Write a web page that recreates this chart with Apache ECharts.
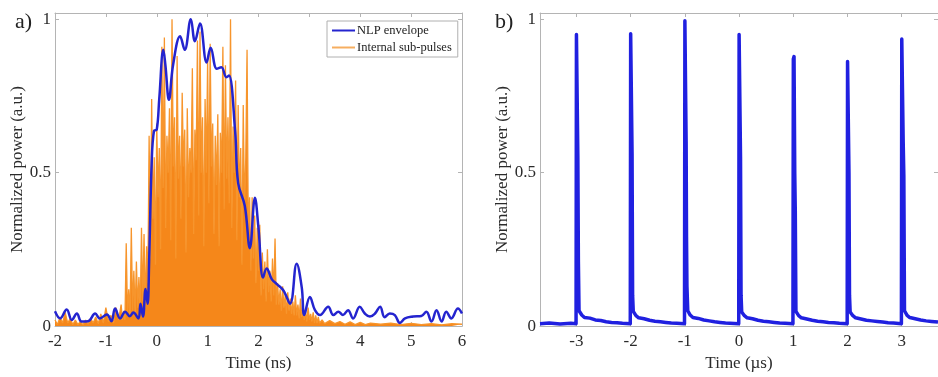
<!DOCTYPE html>
<html>
<head>
<meta charset="utf-8">
<script src="https://cdn.jsdelivr.net/npm/echarts@6/dist/echarts.min.js"></script>
<style>
  html, body { margin: 0; padding: 0; background: #ffffff; }
  #chart { width: 938px; height: 377px; }
</style>
</head>
<body>
<div id="chart"></div>
<script>
// Panel a) tick labels
const timeTicksNs = [-2, -1, 0, 1, 2, 3, 4, 5, 6];
const powerTicks = [0, 0.5, 1];
// Panel b) tick labels
const timeTicksUs = [-3, -2, -1, 0, 1, 2, 3];

// NLP envelope, [time (ns), normalized power]
const nlpEnvelope = [
  [-2.00, 0.048], [-1.90, 0.025], [-1.77, 0.054], [-1.67, 0.020], [-1.57, 0.041],
  [-1.48, 0.015], [-1.35, 0.016], [-1.21, 0.041], [-1.12, 0.025], [-0.98, 0.038],
  [-0.89, 0.016], [-0.82, 0.057], [-0.72, 0.025], [-0.62, 0.047], [-0.53, 0.032],
  [-0.46, 0.044], [-0.36, 0.025], [-0.32, 0.073], [-0.27, 0.031], [-0.22, 0.121],
  [-0.18, 0.073], [-0.15, 0.210], [-0.10, 0.530], [-0.055, 0.636], [0.00, 0.640],
  [0.05, 0.742], [0.13, 0.900], [0.17, 0.850], [0.24, 0.737], [0.32, 0.850],
  [0.46, 0.944], [0.55, 0.900], [0.67, 1.000], [0.75, 0.928], [0.85, 0.986],
  [0.98, 0.859], [1.06, 0.907], [1.18, 0.838], [1.27, 0.843], [1.37, 0.811],
  [1.42, 0.816], [1.54, 0.636], [1.60, 0.466], [1.73, 0.392], [1.83, 0.254],
  [1.93, 0.418], [2.00, 0.318], [2.09, 0.158], [2.16, 0.188], [2.26, 0.153],
  [2.36, 0.137], [2.49, 0.116], [2.62, 0.073], [2.75, 0.203], [2.85, 0.126],
  [2.90, 0.036], [3.01, 0.095], [3.11, 0.052], [3.21, 0.036], [3.37, 0.063],
  [3.47, 0.036], [3.57, 0.047], [3.66, 0.036], [3.76, 0.052], [3.86, 0.025],
  [3.99, 0.063], [4.09, 0.041], [4.19, 0.031], [4.29, 0.041], [4.39, 0.063],
  [4.48, 0.029], [4.58, 0.041], [4.68, 0.036], [4.78, 0.010], [4.88, 0.025],
  [5.04, 0.031], [5.20, 0.033], [5.30, 0.047], [5.40, 0.015], [5.50, 0.052],
  [5.60, 0.015], [5.69, 0.047], [5.79, 0.025], [5.92, 0.057], [6.00, 0.041]
];

// Internal sub-pulses, [time (ns), normalized power]
const subPulses = [
  [-2.00, 0.020], [-1.95, 0.005], [-1.90, 0.030], [-1.85, 0.010], [-1.80, 0.045],
  [-1.75, 0.010], [-1.70, 0.025], [-1.65, 0.005], [-1.60, 0.020], [-1.55, 0.005],
  [-1.50, 0.015], [-1.45, 0.004], [-1.40, 0.020], [-1.35, 0.006], [-1.30, 0.025],
  [-1.25, 0.010], [-1.20, 0.030], [-1.15, 0.008], [-1.10, 0.040], [-1.05, 0.010],
  [-1.00, 0.060], [-0.95, 0.015], [-0.90, 0.035], [-0.85, 0.010], [-0.80, 0.060],
  [-0.75, 0.020], [-0.70, 0.070], [-0.675, 0.020],
  [-0.650, 0.05], [-0.625, 0.02], [-0.600, 0.27], [-0.575, 0.04], [-0.550, 0.12],
  [-0.525, 0.03], [-0.500, 0.32], [-0.475, 0.05], [-0.450, 0.18], [-0.425, 0.04],
  [-0.400, 0.21], [-0.375, 0.06], [-0.350, 0.16], [-0.325, 0.05], [-0.300, 0.32],
  [-0.275, 0.08], [-0.250, 0.30], [-0.225, 0.06], [-0.200, 0.26], [-0.175, 0.14],
  [-0.150, 0.62], [-0.125, 0.22], [-0.100, 0.74], [-0.075, 0.35], [-0.050, 0.55],
  [-0.025, 0.20], [0.000, 0.66], [0.025, 0.42], [0.050, 0.58], [0.075, 0.25],
  [0.100, 0.91], [0.125, 0.45], [0.150, 0.94], [0.175, 0.32], [0.200, 0.62],
  [0.225, 0.50], [0.250, 0.71], [0.275, 0.28], [0.300, 1.00], [0.325, 0.52],
  [0.350, 0.68], [0.375, 0.22], [0.400, 0.88], [0.425, 0.48], [0.450, 0.62],
  [0.475, 0.35], [0.500, 0.76], [0.525, 0.52], [0.550, 0.64], [0.575, 0.24],
  [0.600, 0.71], [0.625, 0.42], [0.650, 0.58], [0.675, 0.50], [0.700, 0.84],
  [0.725, 0.30], [0.750, 0.64], [0.775, 0.54], [0.800, 0.93], [0.825, 0.36],
  [0.850, 0.96], [0.875, 0.50], [0.900, 0.68], [0.925, 0.26], [0.950, 0.74],
  [0.975, 0.50], [1.000, 0.87], [1.025, 0.40], [1.050, 0.92], [1.075, 0.52],
  [1.100, 0.66], [1.125, 0.30], [1.150, 0.62], [1.175, 0.46], [1.200, 0.69],
  [1.225, 0.26], [1.250, 0.63], [1.275, 0.50], [1.300, 0.91], [1.325, 0.38],
  [1.350, 0.85], [1.375, 0.48], [1.400, 0.68], [1.425, 0.40], [1.450, 1.00],
  [1.475, 0.32], [1.500, 0.65], [1.525, 0.50], [1.550, 0.80], [1.575, 0.28],
  [1.600, 0.72], [1.625, 0.42], [1.650, 0.58], [1.675, 0.20], [1.700, 0.72],
  [1.725, 0.38], [1.750, 0.55], [1.775, 0.90], [1.800, 0.30], [1.825, 0.42],
  [1.850, 0.18], [1.875, 0.42], [1.900, 0.22], [1.925, 0.36], [1.950, 0.14],
  [1.975, 0.32], [2.000, 0.18], [2.025, 0.33], [2.050, 0.10], [2.075, 0.24],
  [2.100, 0.12], [2.125, 0.21], [2.150, 0.08], [2.175, 0.25], [2.200, 0.11],
  [2.225, 0.18], [2.250, 0.08], [2.275, 0.22], [2.300, 0.10], [2.325, 0.285],
  [2.350, 0.07], [2.375, 0.14], [2.400, 0.07], [2.425, 0.12], [2.450, 0.05],
  [2.475, 0.13], [2.500, 0.06], [2.525, 0.10], [2.550, 0.04], [2.575, 0.11],
  [2.600, 0.05], [2.625, 0.09], [2.650, 0.04], [2.675, 0.08], [2.700, 0.035],
  [2.725, 0.10], [2.750, 0.035], [2.775, 0.07], [2.800, 0.025], [2.825, 0.09],
  [2.850, 0.03], [2.875, 0.06], [2.900, 0.02], [2.925, 0.05], [2.950, 0.015],
  [2.975, 0.06], [3.000, 0.02], [3.025, 0.04], [3.050, 0.015], [3.075, 0.045],
  [3.100, 0.010], [3.125, 0.035], [3.150, 0.010], [3.175, 0.030], [3.200, 0.010],
  [3.25, 0.020], [3.30, 0.008], [3.40, 0.018], [3.50, 0.008], [3.60, 0.015],
  [3.70, 0.006], [3.80, 0.014], [3.90, 0.005], [4.00, 0.012], [4.10, 0.005],
  [4.20, 0.010], [4.40, 0.006], [4.60, 0.010], [4.80, 0.005], [5.00, 0.009],
  [5.20, 0.005], [5.40, 0.008], [5.60, 0.004], [5.80, 0.008], [6.00, 0.006]
];

// Pulse train, [time (µs), normalized power]
const pulseTrain = [
  [-3.67, 0.008], [-3.50, 0.010], [-3.30, 0.007], [-3.10, 0.009], [-3.005, 0.008],
  // pulse at -3 µs
  [-2.998, 0.950], [-2.985, 0.954], [-2.972, 0.55], [-2.962, 0.21], [-2.950, 0.050],
  [-2.90, 0.036], [-2.85, 0.028], [-2.75, 0.026], [-2.65, 0.020], [-2.55, 0.018],
  [-2.45, 0.014], [-2.35, 0.012], [-2.25, 0.011], [-2.15, 0.009], [-2.005, 0.008],
  // pulse at -2 µs
  [-1.998, 0.952], [-1.985, 0.955], [-1.972, 0.56], [-1.962, 0.10], [-1.950, 0.048],
  [-1.90, 0.034], [-1.85, 0.027], [-1.75, 0.024], [-1.65, 0.019], [-1.55, 0.016],
  [-1.45, 0.014], [-1.35, 0.012], [-1.25, 0.010], [-1.15, 0.009], [-1.005, 0.008],
  // pulse at -1 µs
  [-0.998, 0.995], [-0.985, 1.000], [-0.975, 0.60], [-0.968, 0.29], [-0.960, 0.13],
  [-0.945, 0.050], [-0.90, 0.036], [-0.85, 0.028], [-0.75, 0.025], [-0.65, 0.020],
  [-0.55, 0.017], [-0.45, 0.014], [-0.35, 0.012], [-0.25, 0.010], [-0.005, 0.008],
  // pulse at 0 µs
  [0.002, 0.950], [0.015, 0.955], [0.028, 0.55], [0.038, 0.10], [0.050, 0.046],
  [0.10, 0.034], [0.15, 0.027], [0.25, 0.024], [0.35, 0.019], [0.45, 0.016],
  [0.55, 0.014], [0.65, 0.012], [0.75, 0.010], [0.85, 0.009], [0.995, 0.008],
  // pulse at 1 µs
  [1.002, 0.870], [1.015, 0.878], [1.028, 0.50], [1.038, 0.376], [1.050, 0.048],
  [1.10, 0.034], [1.15, 0.027], [1.25, 0.023], [1.35, 0.019], [1.45, 0.016],
  [1.55, 0.014], [1.65, 0.012], [1.75, 0.011], [1.85, 0.009], [1.995, 0.008],
  // pulse at 2 µs
  [2.002, 0.862], [2.015, 0.868], [2.028, 0.50], [2.038, 0.10], [2.050, 0.046],
  [2.10, 0.034], [2.15, 0.027], [2.25, 0.023], [2.35, 0.019], [2.45, 0.017],
  [2.55, 0.015], [2.65, 0.013], [2.75, 0.011], [2.85, 0.010], [2.995, 0.008],
  // pulse at 3 µs
  [3.002, 0.935], [3.015, 0.940], [3.028, 0.60], [3.040, 0.490], [3.052, 0.050],
  [3.10, 0.035], [3.15, 0.028], [3.25, 0.024], [3.35, 0.020], [3.45, 0.017],
  [3.55, 0.015], [3.67, 0.013]
];

const serif = '"Liberation Serif", "DejaVu Serif", serif';
const frameColor = '#b4b4b4';
const labelColor = '#2b2b2b';
const blue = '#2424cf';

function frameAxis(gridIndex, position, min, max, ticks) {
  return {
    type: 'value', gridIndex, position, min, max,
    axisLine: { show: true, onZero: false, lineStyle: { color: frameColor, width: 1 } },
    axisTick: { show: true, inside: true, length: 4, customValues: ticks, lineStyle: { color: frameColor } },
    axisLabel: { show: false },
    splitLine: { show: false }
  };
}

function labelledX(gridIndex, min, max, ticks, name) {
  const a = frameAxis(gridIndex, 'bottom', min, max, ticks);
  a.axisLabel = {
    show: true, customValues: ticks, margin: 7,
    fontFamily: serif, fontSize: 17, color: labelColor
  };
  a.name = name;
  a.nameLocation = 'middle';
  a.nameGap = 26;
  a.nameTextStyle = { fontFamily: serif, fontSize: 17, color: labelColor };
  return a;
}

function labelledY(gridIndex, ticks, name) {
  const a = frameAxis(gridIndex, 'left', 0, 1.02, ticks);
  a.axisLabel = {
    show: true, customValues: ticks, margin: 4,
    fontFamily: serif, fontSize: 17, color: labelColor
  };
  a.name = name;
  a.nameLocation = 'middle';
  a.nameGap = 26;
  a.nameTextStyle = { fontFamily: serif, fontSize: 17, color: labelColor };
  return a;
}

const chart = echarts.init(document.getElementById('chart'), null, { renderer: 'canvas' });

chart.setOption({
  backgroundColor: '#ffffff',
  animation: false,
  title: [
    { text: 'a)', left: 10, top: 6, textStyle: { fontFamily: serif, fontSize: 22, fontWeight: 'normal', color: '#222' } },
    { text: 'b)', left: 490, top: 6, textStyle: { fontFamily: serif, fontSize: 22, fontWeight: 'normal', color: '#222' } }
  ],
  grid: [
    { left: 55, top: 13, width: 407, height: 320 },
    { left: 540, top: 13, width: 407, height: 320 }
  ],
  legend: {
    data: ['NLP envelope', 'Internal sub-pulses'],
    orient: 'vertical',
    left: 327, top: 21,
    icon: 'rect',
    itemWidth: 23, itemHeight: 2, itemGap: 4,
    padding: [3, 6, 3, 5],
    backgroundColor: '#ffffff',
    borderColor: '#b0b0b0', borderWidth: 1, borderRadius: 0,
    textStyle: { fontFamily: serif, fontSize: 12.5, color: '#222', padding: [0, 0, 0, -3] }
  },
  xAxis: [
    labelledX(0, -2, 6, timeTicksNs, 'Time (ns)'),
    frameAxis(0, 'top', -2, 6, timeTicksNs),
    labelledX(1, -3.67, 3.67, timeTicksUs, 'Time (µs)'),
    frameAxis(1, 'top', -3.67, 3.67, timeTicksUs)
  ],
  yAxis: [
    labelledY(0, powerTicks, 'Normalized power (a.u.)'),
    frameAxis(0, 'right', 0, 1.02, powerTicks),
    labelledY(1, powerTicks, 'Normalized power (a.u.)'),
    frameAxis(1, 'right', 0, 1.02, powerTicks)
  ],
  series: [
    {
      name: 'Internal sub-pulses', type: 'line',
      xAxisIndex: 0, yAxisIndex: 0,
      data: subPulses, showSymbol: false, symbol: 'none',
      itemStyle: { color: '#f6ae60' },
      lineStyle: { color: '#f7952c', width: 1.3 },
      areaStyle: { color: '#f5871a', opacity: 1 },
      z: 2
    },
    {
      name: 'NLP envelope', type: 'line',
      xAxisIndex: 0, yAxisIndex: 0,
      data: nlpEnvelope, showSymbol: false, symbol: 'none', smooth: 0.4,
      itemStyle: { color: blue },
      lineStyle: { color: blue, width: 2.5 },
      z: 3
    },
    {
      name: 'Pulse train', type: 'line',
      xAxisIndex: 2, yAxisIndex: 2,
      data: pulseTrain, showSymbol: false, symbol: 'none',
      itemStyle: { color: '#2020e0' },
      lineStyle: { color: '#2020e0', width: 3.5, join: 'round' },
      z: 3
    }
  ]
});
</script>
</body>
</html>
